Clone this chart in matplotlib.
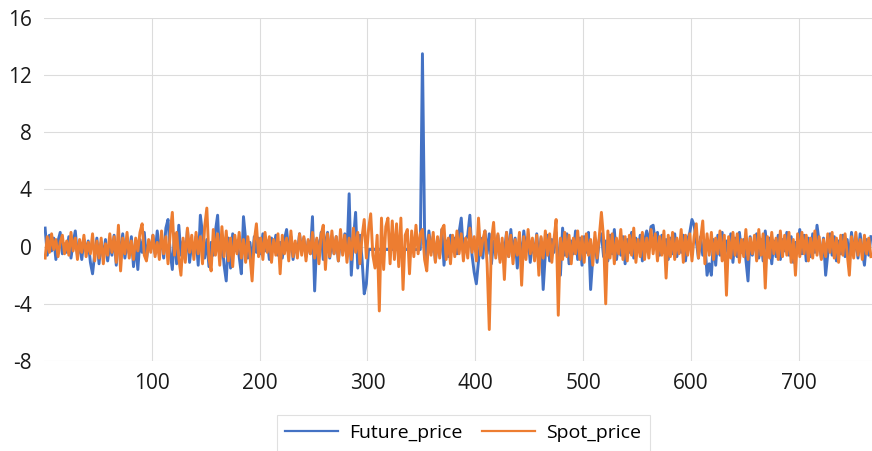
import numpy as np
import matplotlib
matplotlib.use("Agg")
import matplotlib.pyplot as plt

plt.rcParams['font.family'] = ['Open Sans', 'DejaVu Sans']
plt.rcParams['axes.unicode_minus'] = False

obs = list(range(1, 768, 2))

future_price = [
    1.3, -0.6, 0.8, -0.3, 0.6, -0.9, 0.4, 1.0, -0.5, 0.2,
    -0.4, 0.7, -0.8, 0.3, 1.1, -0.6, 0.2, -0.9, 0.5, -0.3,
    0.4, -1.1, -1.9, -0.5, 0.6, -1.2, 0.3, -0.7, 0.5, -1.0,
    0.2, -0.6, 0.8, -1.3, 0.4, -0.2, 0.9, -0.8, 0.3, -0.5,
    0.7, -1.4, 0.2, -1.6, 0.5, -0.4, 1.0, -0.9, 0.3, -0.2,
    0.8, -0.5, 1.1, -0.3, 0.6, -0.8, 1.3, 1.9, -0.4, -1.6,
    0.9, -1.2, 1.5, -0.6, 0.4, -0.9, 1.2, -1.1, 0.3, -0.5,
    0.7, -1.3, 2.2, 0.9, -0.8, 0.5, -1.4, 0.3, -0.6, 1.1,
    2.2, -0.9, 0.5, -1.3, -2.4, 0.6, -1.5, 0.9, -0.3, 0.4,
    -0.7, -1.9, 2.1, 0.5, -0.8, 0.3, -1.1, 0.7, -0.4, 0.6,
    -0.5, 0.9, -0.3, 0.4, -0.9, 0.6, -0.2, 0.8, -0.6, 0.3,
    -0.8, 0.5, 1.2, -0.4, 0.7, -0.9, 0.2, -0.5, 0.9, -0.3,
    0.6, -0.7, 0.4, -0.5, 2.1, -3.1, 0.5, -0.6, 1.0, -0.9,
    0.3, 1.0, -0.8, 0.4, -0.5, 0.7, -1.0, 0.6, -0.3, 0.9,
    -0.6, 3.7, -2.0, 0.5, 2.4, -1.5, 0.8, -0.9, -3.3, -2.6,
    -0.2, -0.2, -0.2, -0.2, -0.2, -0.2, -0.2, -0.2, -0.2, -0.2,
    -0.2, -0.2, -0.2, -0.2, -0.2, -0.2, -0.2, -0.2, -0.2, -0.2,
    -0.2, -0.2, -0.2, -0.2, -0.2, 13.5, 0.9, -0.8, 1.1, -0.4,
    0.7, -1.0, 0.5, -0.6, 1.2, -1.3, 0.4, -0.7, 0.8, -0.3,
    0.6, -0.5, 1.0, 2.0, -0.4, 0.5, 0.8, 2.2, -0.6, -1.8,
    -2.6, -1.0, 0.6, -0.8, 1.1, -0.5, 0.9, -1.2, 0.4, -0.6,
    0.8, -0.9, 0.3, -0.4, 1.0, -0.7, 1.2, -0.5, 0.6, -1.5,
    0.5, -0.8, 1.1, -0.3, 0.7, -1.1, 0.4, -0.6, 0.9, -0.9,
    0.6, -3.0, -0.5, 0.8, -1.0, 0.5, -0.4, 1.0, -0.8, -2.0,
    1.3, -0.6, 0.9, -1.2, 0.4, -0.5, 1.1, -0.9, 0.6, -1.3,
    0.7, -0.4, 1.0, -3.0, -0.8, 0.6, -1.1, 0.5, 0.9, -0.7,
    0.4, -1.0, 0.8, -0.5, 1.2, -0.9, 0.3, -0.6, 0.7, -1.2,
    0.5, -0.4, 1.0, -0.8, 0.6, -0.3, 0.8, -1.0, 0.4, 1.1,
    0.2, 1.4, 1.5, 0.3, 1.0, -0.6, 0.8, -0.4, 0.5, -0.9,
    0.6, -0.5, 0.9, -0.7, 0.3, -0.4, 0.8, -1.0, 0.5, 1.0,
    1.9, 1.5, 0.4, -0.8, 0.7, -0.6, 0.3, -2.0, -1.2, -2.0,
    0.5, -1.3, 0.8, -0.6, 1.0, -0.9, 0.4, -0.5, 0.9, -1.1,
    0.6, -0.7, 1.0, -0.4, 0.5, -0.9, -2.4, 0.7, -0.6, 0.3,
    0.9, -0.8, 0.5, -1.0, 1.1, -0.5, 0.6, -1.2, 0.4, -0.7,
    0.8, -0.9, 0.5, -0.3, 1.0, -0.6, 0.7, -1.1, 0.3, -0.4,
    1.2, -0.5, 0.8, -1.0, 0.6, -0.7, 0.9, -0.4, 1.5, 0.3,
    -0.8, 0.6, -2.0, -0.5, 0.9, -0.6, 0.7, -1.0, 0.4, -0.5,
    0.8, -0.7, 0.5, -0.9, 1.0, -0.4, 0.6, -0.8, 0.9, -0.3,
    -1.3, 0.5, -0.6, 0.7,
]

spot_price = [
    -0.8, 0.7, -0.4, 0.9, -0.2, 0.5, -0.7, 0.3, 0.8, -0.5,
    0.4, -0.6, 1.0, -0.3, 0.6, -0.9, 0.5, -0.4, 0.8, -0.7,
    0.3, -0.5, 0.9, -1.0, 0.4, -0.8, 0.6, -1.2, 0.2, -0.6,
    0.9, -0.4, 0.7, -1.1, 1.5, -1.7, 0.6, -0.5, 1.0, -0.8,
    0.4, -0.9, 0.6, -0.3, 1.0, 1.6, -0.6, -1.0, 0.5, -0.4,
    0.8, -0.7, 0.3, -0.9, 1.1, -0.5, 0.7, -1.2, 0.9, 2.4,
    -0.6, 1.0, -0.8, -2.0, 0.6, -1.1, 1.3, -0.4, 0.8, -0.9,
    1.0, -0.5, 0.7, -1.2, 1.4, 2.7, -0.8, -1.7, 1.2, -0.6,
    0.9, -1.3, 1.4, -0.7, 1.1, -1.0, 0.6, -1.4, 0.8, -0.5,
    1.0, -0.8, 0.5, -1.1, 0.7, -0.6, -2.4, 0.4, 1.6, -0.7,
    0.6, -0.9, 1.0, -0.4, 0.7, -1.1, 0.5, -0.6, 0.9, -1.9,
    0.8, -0.5, 0.6, -1.0, 1.1, -0.7, 0.4, -0.8, 0.9, -0.6,
    0.7, -1.0, 0.5, -0.5, 1.0, -0.8, 0.6, -1.2, 0.8, 1.5,
    -1.6, 0.9, -0.7, 1.1, -0.5, 0.7, -1.0, 1.2, -0.6, 0.8,
    -1.1, 0.6, -0.9, 1.3, -0.4, 1.0, -1.2, 0.7, 1.9, -0.8,
    1.2, 2.3, -0.6, -1.5, 0.8, -4.5, 2.0, -1.6, 1.4, 2.0,
    -1.2, 1.8, -0.9, 1.6, -1.4, 2.0, -3.0, 0.8, 1.2, -1.9,
    1.1, -0.7, 1.5, -0.5, 0.9, 1.2, -0.9, -1.7, 0.8, -0.6,
    1.0, -1.1, 0.7, -0.8, 1.2, 1.5, -0.9, 0.6, -1.2, 0.8,
    -0.7, 1.1, -0.5, 0.9, -1.0, 0.6, -0.8, 1.3, -0.4, 0.7,
    -1.0, 2.0, -0.6, 0.5, 1.1, -1.2, -5.8, 0.4, 1.7, -0.8,
    0.9, -1.1, 0.6, -2.3, 1.0, -0.7, 0.8, -1.2, 0.5, -0.6,
    1.0, -2.7, 0.7, -0.9, 1.2, -0.5, 0.6, -1.0, 0.8, -2.0,
    0.7, -0.8, 1.1, -0.6, 0.9, -1.1, 0.5, 1.9, -4.8, 0.6,
    -0.9, 1.0, -0.7, 0.8, -1.2, 0.6, -0.5, 1.1, -0.9, 0.7,
    -1.1, 0.9, -0.6, 0.5, -1.3, 1.0, -0.8, 0.7, 2.4, 0.6,
    -4.0, 1.1, -0.8, 0.9, -1.2, 0.6, -0.5, 1.2, -0.9, 0.7,
    -1.0, 0.8, -0.6, 1.3, -1.1, 0.5, -0.7, 1.0, -0.9, 0.6,
    -0.8, 1.2, -0.5, 0.9, -1.0, 0.7, -0.6, 1.1, -2.2, 0.8,
    -0.7, 1.0, -0.9, 0.6, -0.5, 1.2, -1.1, 0.8, -0.6, 0.9,
    -1.0, 0.7, 1.6, -0.8, 0.5, 1.8, -1.2, 0.9, -0.6, 1.0,
    -0.9, 0.6, -0.5, 1.1, -1.0, 0.8, -3.4, 0.7, -0.8, 1.0,
    -0.6, 0.9, -1.1, 0.5, -0.7, 1.2, -0.9, 0.6, -0.5, 0.8,
    -1.0, 1.2, -0.6, 0.9, -2.9, 0.7, -0.8, 1.0, -0.5, 0.6,
    -0.9, 1.1, -0.7, 0.8, -0.6, 1.0, -1.1, 0.5, -2.0, 0.9,
    -0.7, 1.0, -0.5, 0.8, -1.0, 0.6, -0.8, 1.1, -0.6, 0.7,
    -0.9, 0.5, -0.7, 0.9, -0.4, 1.0, -0.8, 0.6, -1.1, 0.8,
    -0.6, 0.9, -0.5, -2.0, 0.7, -0.8, 1.0, -0.6, 0.5, -0.9,
    0.8, -0.5, 0.6, -0.7,
]

x_ticks = [100, 200, 300, 400, 500, 600, 700]
y_ticks = [-8, -4, 0, 4, 8, 12, 16]

fig = plt.figure(figsize=(8.72, 4.51), dpi=100)
ax = fig.add_axes([0.0505, 0.1996, 0.9495, 0.7605])

ax.plot(obs, future_price, color='#4472C4', lw=2.1, label='Future_price')
ax.plot(obs, spot_price, color='#ED7D31', lw=2.1, label='Spot_price')

ax.set_xlim(0, 768)
ax.set_ylim(-8, 16)
ax.set_xticks(x_ticks)
ax.set_yticks(y_ticks)
ax.grid(True, color='#dcdcdc', lw=0.8)
ax.set_axisbelow(True)
for s in ax.spines.values():
    s.set_visible(False)
ax.tick_params(length=0, labelsize=15, labelcolor='#1a1a1a')
ax.tick_params(axis='x', pad=9)
ax.tick_params(axis='y', pad=9)

leg = fig.legend(loc='center', bbox_to_anchor=(0.5315, 0.04), ncol=2,
                 fontsize=14, frameon=True, fancybox=False,
                 handlelength=2.7, handletextpad=0.6, columnspacing=1.0,
                 borderpad=0.45)
leg.get_frame().set_edgecolor('#d9d9d9')
leg.get_frame().set_linewidth(0.8)
for h in leg.get_lines():
    h.set_linewidth(1.6)

fig.savefig('out.png', dpi=100)
